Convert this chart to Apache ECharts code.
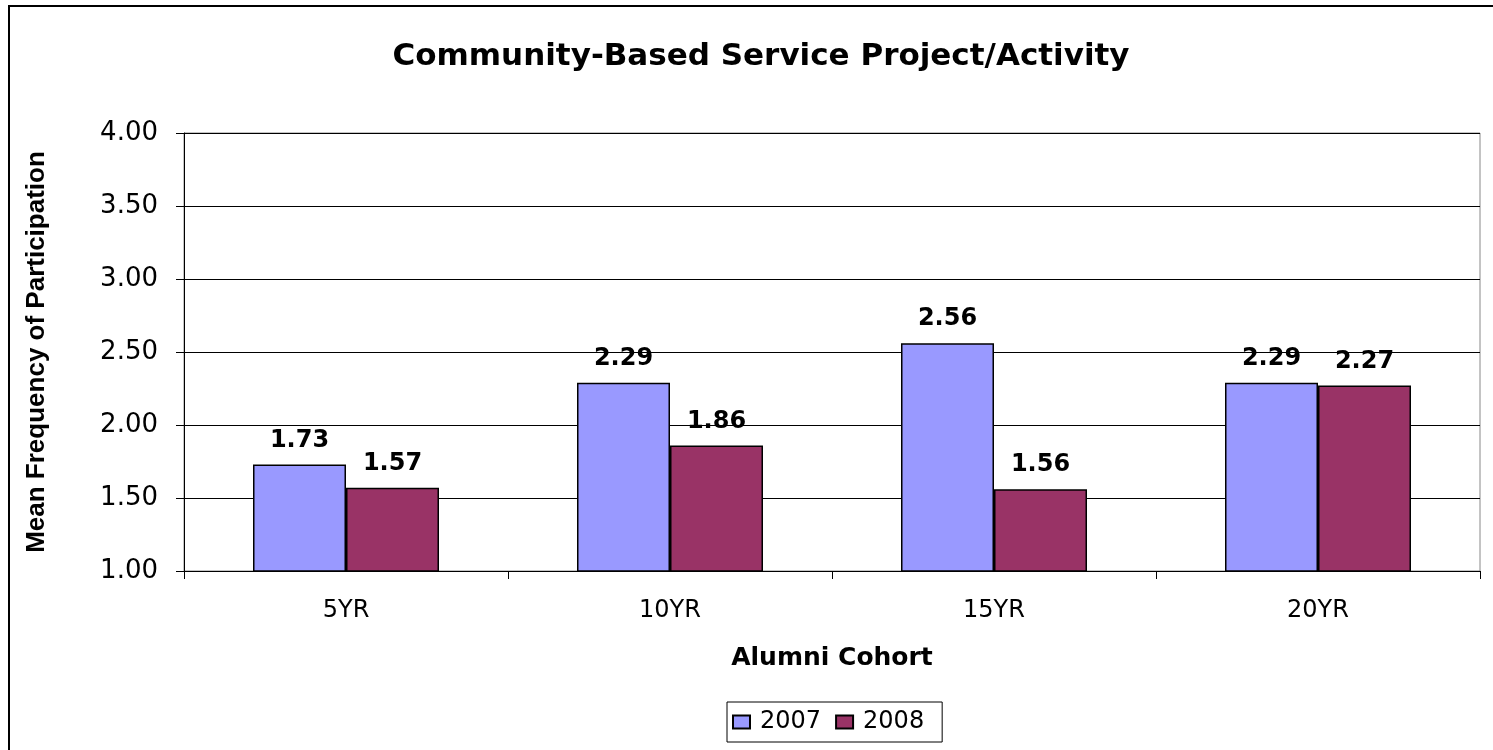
<!DOCTYPE html>
<html>
<head>
<meta charset="utf-8">
<script src="https://cdn.jsdelivr.net/npm/echarts@6/dist/echarts.min.js"></script>
<style>html,body{margin:0;padding:0;background:#fff}#c{width:1493px;height:750px}</style>
</head>
<body>
<div id="c"></div>
<script>
const categories = ['5YR', '10YR', '15YR', '20YR'];
const seriesNames = ['2007', '2008'];
const values2007 = [1.73, 2.29, 2.56, 2.29];
const values2008 = [1.57, 1.86, 1.56, 2.27];
const yTicks = { min: 1, max: 4, interval: 0.5 };

const chart = echarts.init(document.getElementById('c'));
const labelStyle = {
  show: true, position: 'top', distance: 12,
  fontFamily: 'DejaVu Sans', fontWeight: 'bold', fontSize: 24, color: '#000',
  formatter: p => p.value.toFixed(2)
};
chart.setOption({
  animation: false,
  backgroundColor: '#fff',
  title: {
    text: 'Community-Based Service Project/Activity',
    left: 761, top: 41, textAlign: 'center', padding: 0,
    textStyle: { fontFamily: 'DejaVu Sans', fontWeight: 'bold', fontSize: 31, color: '#000' }
  },
  graphic: [{
    type: 'rect', silent: true,
    shape: { x: 9, y: 6, width: 1500, height: 760 },
    style: { fill: 'none', stroke: '#000', lineWidth: 2 }
  }],
  legend: {
    data: seriesNames,
    left: 727, top: 702,
    padding: [8, 18, 8, 5],
    itemGap: 14, itemWidth: 17, itemHeight: 13,
    icon: 'rect',
    borderColor: '#000', borderWidth: 1,
    textStyle: { fontFamily: 'DejaVu Sans', fontSize: 24, color: '#000', padding: [0, 0, 0, 5] }
  },
  grid: { left: 184, right: 13, top: 133, bottom: 179, show: true, borderColor: '#888', borderWidth: 1 },
  xAxis: {
    type: 'category', data: categories,
    name: 'Alumni Cohort', nameLocation: 'middle', nameGap: 75,
    nameTextStyle: { fontFamily: 'DejaVu Sans', fontWeight: 'bold', fontSize: 25, color: '#000' },
    axisLine: { lineStyle: { color: '#000', width: 1 } },
    axisTick: { show: true, length: 8, lineStyle: { color: '#000' } },
    axisLabel: { margin: 28, fontFamily: 'DejaVu Sans', fontSize: 24, color: '#000' }
  },
  yAxis: {
    type: 'value', min: yTicks.min, max: yTicks.max, interval: yTicks.interval,
    name: 'Mean Frequency of Participation', nameLocation: 'middle', nameGap: 134, nameRotate: 90,
    nameTextStyle: { fontFamily: 'Liberation Sans', fontWeight: 'bold', fontSize: 26, color: '#000' },
    axisLine: { show: true, lineStyle: { color: '#000', width: 1 } },
    axisTick: { show: true, length: 8, lineStyle: { color: '#000' } },
    splitLine: { lineStyle: { color: '#000', width: 1 } },
    axisLabel: { margin: 26, fontFamily: 'DejaVu Sans', fontSize: 26, color: '#000', formatter: v => v.toFixed(2) }
  },
  series: [
    { name: seriesNames[0], type: 'bar', data: values2007, barWidth: 93, barGap: '0%',
      itemStyle: { color: '#9999FF', borderColor: '#000', borderWidth: 1.5 }, label: labelStyle },
    { name: seriesNames[1], type: 'bar', data: values2008, barWidth: 93, barGap: '0%',
      itemStyle: { color: '#993366', borderColor: '#000', borderWidth: 1.5 }, label: labelStyle }
  ]
});
</script>
</body>
</html>
